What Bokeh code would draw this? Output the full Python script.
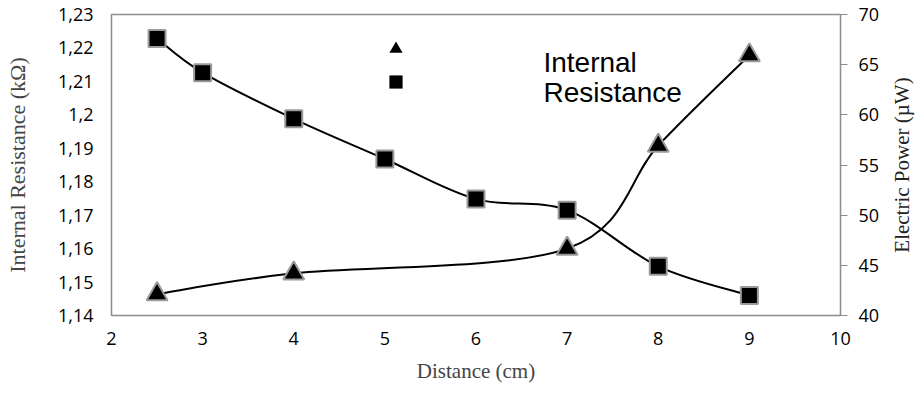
import numpy as np
from bokeh.plotting import figure
from bokeh.layouts import row
from bokeh.models import (Range1d, LinearAxis, FixedTicker, Label, Legend,
                          LegendItem, ColumnDataSource, Div)
from bokeh.embed import file_html
from bokeh.resources import INLINE

# ---------------- data ----------------
# Triangles: Internal Resistance (kΩ), left axis
res_distance = [2.5, 4, 7, 8, 9]
resistance = [1.1464, 1.1526, 1.1600, 1.1908, 1.2178]

# Squares: Electric Power (µW), right axis
pow_distance = [2.5, 3, 4, 5, 6, 7, 8, 9]
power = [67.6, 64.2, 59.6, 55.6, 51.6, 50.5, 44.9, 42.0]

x_ticks = [2, 3, 4, 5, 6, 7, 8, 9, 10]
left_ticks = [1.14, 1.15, 1.16, 1.17, 1.18, 1.19, 1.2, 1.21, 1.22, 1.23]
left_tick_labels = ["1,14", "1,15", "1,16", "1,17", "1,18", "1,19", "1,2",
                    "1,21", "1,22", "1,23"]
right_ticks = [40, 45, 50, 55, 60, 65, 70]

x_title = "Distance (cm)"
left_title = "Internal Resistance (kΩ)"
right_title = "Electric Power (µW)"
annotation_lines = ["Internal", "Resistance"]

# ---------------- helpers ----------------
def smooth_segments(xs, ys):
    """Cubic Bezier segments (Catmull-Rom style) through the data points."""
    xs = np.asarray(xs, float)
    ys = np.asarray(ys, float)
    n = len(xs)
    xp = np.concatenate([[xs[0]], xs, [xs[-1]]])
    yp = np.concatenate([[ys[0]], ys, [ys[-1]]])
    cx0 = xs[:-1] + (xp[2:n + 1] - xp[0:n - 1]) / 6.0
    cy0 = ys[:-1] + (yp[2:n + 1] - yp[0:n - 1]) / 6.0
    cx1 = xs[1:] - (xp[3:n + 2] - xp[1:n]) / 6.0
    cy1 = ys[1:] - (yp[3:n + 2] - yp[1:n]) / 6.0
    return dict(x0=xs[:-1], y0=ys[:-1], x1=xs[1:], y1=ys[1:],
                cx0=cx0, cy0=cy0, cx1=cx1, cy1=cy1)

GREY = "#8c8c8c"
TICK_FONT = "Open Sans"
TITLE_FONT = "Liberation Serif"

p = figure(width=885, height=393, x_range=Range1d(2, 10),
           y_range=Range1d(1.14, 1.23), output_backend="svg",
           toolbar_location=None, min_border_left=111, min_border_right=45,
           min_border_top=14, min_border_bottom=78,
           background_fill_color="white", border_fill_color="white")
p.extra_y_ranges = {"power": Range1d(40, 70)}
p.outline_line_color = GREY
p.outline_line_width = 1.5
p.xgrid.visible = False
p.ygrid.visible = False

# x axis
xa = p.xaxis[0]
xa.ticker = FixedTicker(ticks=x_ticks)
xa.major_tick_out = 0
xa.major_tick_in = 0
xa.minor_tick_out = 0
xa.minor_tick_in = 0
xa.axis_line_color = GREY
xa.major_label_text_font = TICK_FONT
xa.major_label_text_font_size = "18px"
xa.major_label_text_color = "black"
xa.major_label_standoff = 16
xa.axis_label = x_title
xa.axis_label_text_font = TITLE_FONT
xa.axis_label_text_font_style = "normal"
xa.axis_label_text_font_size = "21px"
xa.axis_label_standoff = 11

# left axis
ya = p.yaxis[0]
ya.ticker = FixedTicker(ticks=left_ticks)
ya.major_label_overrides = dict(zip(left_ticks, left_tick_labels))
ya.major_tick_out = 0
ya.major_tick_in = 0
ya.minor_tick_out = 0
ya.minor_tick_in = 0
ya.axis_line_color = GREY
ya.major_label_text_font = TICK_FONT
ya.major_label_text_font_size = "18px"
ya.major_label_text_color = "black"
ya.major_label_standoff = 18
ya.axis_label = left_title
ya.axis_label_text_font = TITLE_FONT
ya.axis_label_text_font_style = "normal"
ya.axis_label_text_font_size = "22px"
ya.axis_label_standoff = 25

# right axis (its title, reading bottom-to-top, sits in the Div beside the plot)
ra = LinearAxis(y_range_name="power", ticker=FixedTicker(ticks=right_ticks))
ra.major_tick_out = 7
ra.major_tick_in = 0
ra.minor_tick_out = 0
ra.minor_tick_in = 0
ra.axis_line_color = GREY
ra.major_tick_line_color = GREY
ra.major_label_text_font = TICK_FONT
ra.major_label_text_font_size = "18px"
ra.major_label_text_color = "black"
ra.major_label_standoff = 11
p.add_layout(ra, "right")

# smooth lines
res_src = ColumnDataSource(smooth_segments(res_distance, resistance))
pow_src = ColumnDataSource(smooth_segments(pow_distance, power))
p.bezier(x0="x0", y0="y0", x1="x1", y1="y1", cx0="cx0", cy0="cy0",
         cx1="cx1", cy1="cy1", source=res_src, line_color="black", line_width=2)
p.bezier(x0="x0", y0="y0", x1="x1", y1="y1", cx0="cx0", cy0="cy0",
         cx1="cx1", cy1="cy1", source=pow_src, line_color="black", line_width=2,
         y_range_name="power")

# legend-only glyphs (drawn underneath the plotted markers, hidden by them)
leg_tri = p.scatter(res_distance, resistance, marker="triangle", size=16,
                    fill_color="black", line_color=None)
leg_sq = p.scatter(pow_distance, power, marker="square", size=14,
                   fill_color="black", line_color=None, y_range_name="power")

# markers
p.scatter(res_distance, resistance, marker="triangle", size=21,
          fill_color="black", line_color="#9a9a9a", line_width=2)
p.scatter(pow_distance, power, marker="square", size=17,
          fill_color="black", line_color="#9a9a9a", line_width=2,
          y_range_name="power")

legend = Legend(items=[LegendItem(label=" ", renderers=[leg_tri]),
                       LegendItem(label=" ", renderers=[leg_sq])],
                location=(268, 217), glyph_width=33, glyph_height=33,
                spacing=0, padding=0, margin=0, border_line_alpha=0,
                background_fill_alpha=0, label_text_font_size="10px",
                label_standoff=0, label_height=33)
p.add_layout(legend, "center")

# annotation
for i, txt in enumerate(annotation_lines):
    p.add_layout(Label(x=6.74, y=1.2157 - i * 0.009, text=txt,
                       text_font="Liberation Sans", text_font_size="28px",
                       text_color="black", text_baseline="alphabetic"))

# right-hand axis title, rotated to read bottom-to-top
title_html = (
    '<div style="position:relative;width:30px;height:393px;">'
    '<div style="position:absolute;left:17px;top:165px;'
    'transform:translate(-50%,-50%) rotate(-90deg);white-space:nowrap;'
    "font-family:'Liberation Serif';font-size:21px;color:#222222;"
    'line-height:1;">' + right_title + '</div></div>'
)
right_title_div = Div(text=title_html, width=30, height=393, margin=(0, 0, 0, 0))

layout = row(p, right_title_div, spacing=0)

open("out.html", "w").write(file_html(layout, INLINE))
